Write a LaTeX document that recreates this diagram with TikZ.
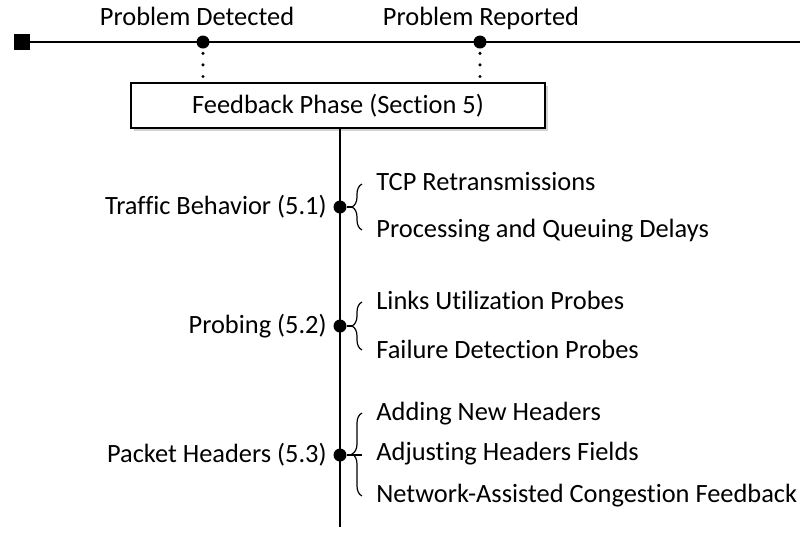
\documentclass[tikz,border=0pt]{standalone}
\usepackage{fontspec}
\setmainfont[Ligatures=NoCommon]{Carlito}
\usetikzlibrary{decorations.pathreplacing,shadows}

\begin{document}
\begin{tikzpicture}[x=0.5pt,y=0.5pt,
    dot/.style = {circle,fill=black,inner sep=0pt,minimum size=6.5pt},
    txt/.style = {inner sep=0pt,yshift=-1.5pt,font=\fontsize{13.2}{15}\selectfont},
    dots/.style = {line width=1.7pt,line cap=round,dash pattern=on 0pt off 5.8pt},
    grp/.style = {decorate,decoration={brace,amplitude=5pt,aspect=#1},semithick}]
\useasboundingbox (0,0) rectangle (800,-538);
% time line
\node[rectangle,fill=black,inner sep=0pt,minimum size=8pt] (start) at (22,-42) {};
\coordinate (tlend) at (800,-42);
\draw[line width=1pt] (start) -- (tlend);
\node[dot] (detected) at (203,-42) {};
\node[dot] (reported) at (480,-42) {};
\node[txt,anchor=mid] (detlbl) at (197,-18) {Problem Detected};
\node[txt,anchor=mid] (replbl) at (481,-18) {Problem Reported};
% feedback phase
\node[draw,line width=1pt,fill=white,minimum width=207pt,minimum height=22.5pt,
      drop shadow={shadow xshift=1.5pt,shadow yshift=-1.5pt,opacity=0.35},
      font=\fontsize{13.2}{15}\selectfont] (fb) at (338,-105.5) {Feedback Phase (Section 5)};
\draw[dots,shorten <=2.2pt,shorten >=2.4pt] (detected) -- (detected |- fb.north);
\draw[dots,shorten <=2.2pt,shorten >=2.4pt] (reported) -- (reported |- fb.north);
% categories
\foreach \y/\t [count=\j] in {-207/Traffic Behavior (5.1), -326/Probing (5.2), -455/Packet Headers (5.3)}
    \node[txt,anchor=mid east] (c\j) at (327,\y) {\t};
\coordinate (bottom) at (340,-527);
\draw[line width=1.2pt] (fb.south -| bottom) -- (bottom);
\foreach \y [count=\j] in {-207,-326,-455}
    \node[dot] (d\j) at (340,\y) {};
% braces
\draw[grp=0.5] (362,-230) -- (362,-184);
\draw[grp=0.5] (362,-350) -- (362,-302);
\draw[grp=0.506] (362,-496) -- (362,-413);
\coordinate (b3) at (362,-455);
\draw[semithick] (d1) -- ++(12,0);
\draw[semithick] (d2) -- ++(12,0);
\draw[semithick] (d3) -- (b3);
% items
\foreach \y/\t [count=\j] in {-183/TCP Retransmissions, -230/Processing and Queuing Delays,
    -302/Links Utilization Probes, -351/Failure Detection Probes,
    -413/Adding New Headers, -453/Adjusting Headers Fields,
    -495/Network-Assisted Congestion Feedback}
    \node[txt,anchor=mid west] (i\j) at (376,\y) {\t};
\end{tikzpicture}
\end{document}
